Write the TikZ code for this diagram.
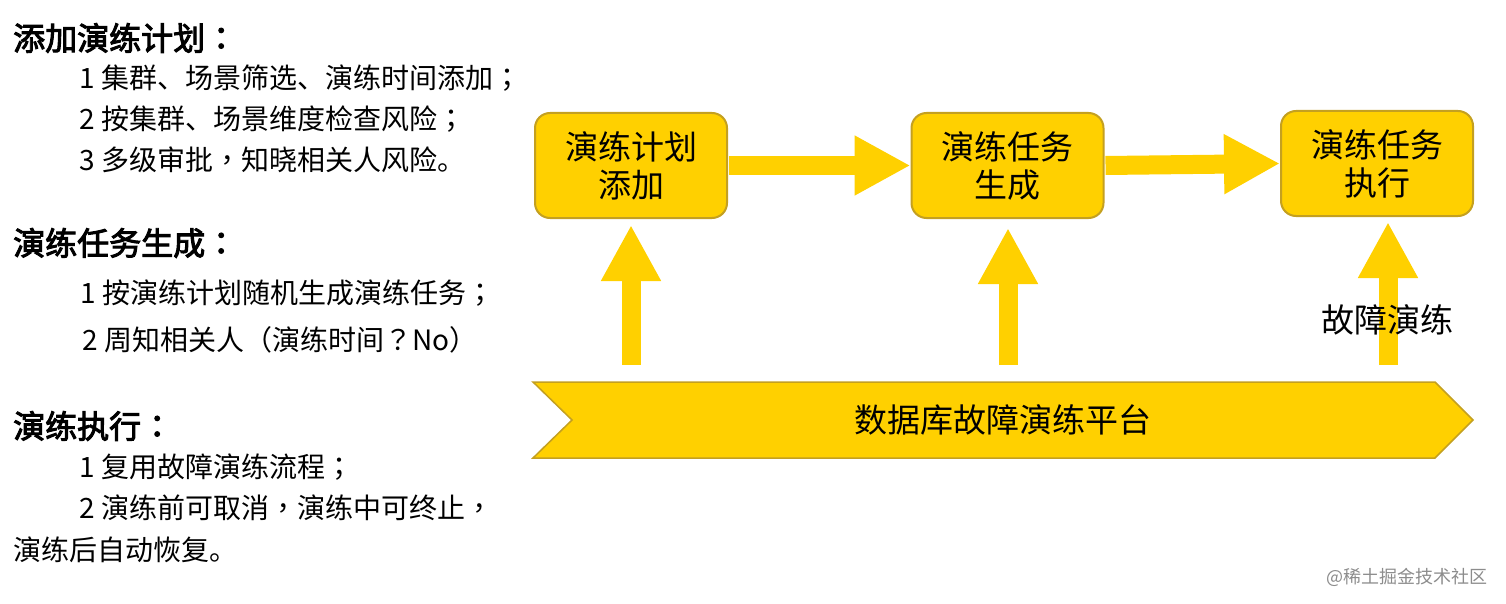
\documentclass[tikz,border=0pt]{standalone}
\usepackage{fontspec}
\setmainfont{Noto Sans CJK SC}[AutoFakeBold=3]
\newfontfamily\tcp{Noto Sans CJK TC}[AutoFakeBold=3]
\newcommand\ppunct[1]{{\tcp #1}}
\usetikzlibrary{arrows.meta,calc}
\definecolor{gold}{HTML}{FFD000}
\definecolor{goldedge}{HTML}{C4A020}
\begin{document}
\begin{tikzpicture}[x=1pt,y=-1pt,
  stepbox/.style={draw=goldedge,line width=2pt,fill=gold,rounded corners=15pt,
    minimum width=192pt,minimum height=105pt,align=center,
    font=\fontsize{33}{38}\selectfont,inner sep=0pt},
  harrow/.style={draw=gold,line width=19pt,-{Triangle[length=56pt,width=56pt]}},
  varrow/.style={draw=gold,line width=19pt,-{Triangle[length=56pt,width=56pt]}},
  title/.style={anchor=west,font=\fontsize{32}{36}\selectfont\bfseries,inner sep=0pt},
  body/.style={anchor=west,font=\fontsize{28}{32}\selectfont,inner sep=0pt}]
\useasboundingbox (0,0) rectangle (1506,604);
% boxes
\node[stepbox] (b1) at (631,165.5) {演练计划\\添加};
\node[stepbox] (b2) at (1007.5,165.5) {演练任务\\生成};
\node[stepbox] (b3) at (1377,163.5) {演练任务\\执行};
% horizontal arrows
\draw[harrow] ([xshift=1pt]b1.east) -- (b2.west);
\draw[harrow] ([xshift=1pt]b2.east) -- (b3.west);
% platform chevron
\coordinate (p1) at (533,382);
\coordinate (p2) at (1435,382);
\coordinate (p3) at (1473,420);
\coordinate (p4) at (1435,458);
\coordinate (p5) at (533,458);
\coordinate (p6) at (572,420);
\filldraw[fill=gold,draw=goldedge,line width=1.5pt] (p1) -- (p2) -- (p3) -- (p4) -- (p5) -- (p6) -- cycle;
\node[font=\fontsize{33}{36}\selectfont] (plat) at (1003,420) {数据库故障演练平台};
% vertical arrows
\coordinate (v1s) at (631,365); \coordinate (v1e) at (631,225);
\coordinate (v2s) at (1008,365); \coordinate (v2e) at (1008,228);
\coordinate (v3s) at (1388,365); \coordinate (v3e) at (1388,222);
\draw[varrow] (v1s) -- (v1e);
\draw[varrow] (v2s) -- (v2e);
\draw[varrow] (v3s) -- (v3e);
\node[font=\fontsize{33}{36}\selectfont] (gz) at (1387,320) {故障演练};
% left text
\node[title] (t1) at (13,38) {添加演练计划\ppunct{：}};
\node[body] (l11) at (79,78) {1 集群、场景筛选、演练时间添加\ppunct{；}};
\node[body] (l12) at (79,119) {2 按集群、场景维度检查风险\ppunct{；}};
\node[body] (l13) at (79,160) {3 多级审批\ppunct{，}知晓相关人风险。};
\node[title] (t2) at (13,243) {演练任务生成\ppunct{：}};
\node[body] (l21) at (80,293) {1 按演练计划随机生成演练任务\ppunct{；}};
\node[body] (l22) at (82,340) {2 周知相关人\ppunct{（}演练时间\ppunct{？}No\ppunct{）}};
\node[title] (t3) at (13,426) {演练执行\ppunct{：}};
\node[body] (l31) at (79,467) {1 复用故障演练流程\ppunct{；}};
\node[body] (l32) at (79,508) {2 演练前可取消\ppunct{，}演练中可终止\ppunct{，}};
\node[body] (l33) at (13,550) {演练后自动恢复。};
% watermark
\node[anchor=east,text=black!45,font=\fontsize{18}{20}\selectfont,inner sep=0pt] (wm) at (1488,577) {@稀土掘金技术社区};
\end{tikzpicture}
\end{document}
